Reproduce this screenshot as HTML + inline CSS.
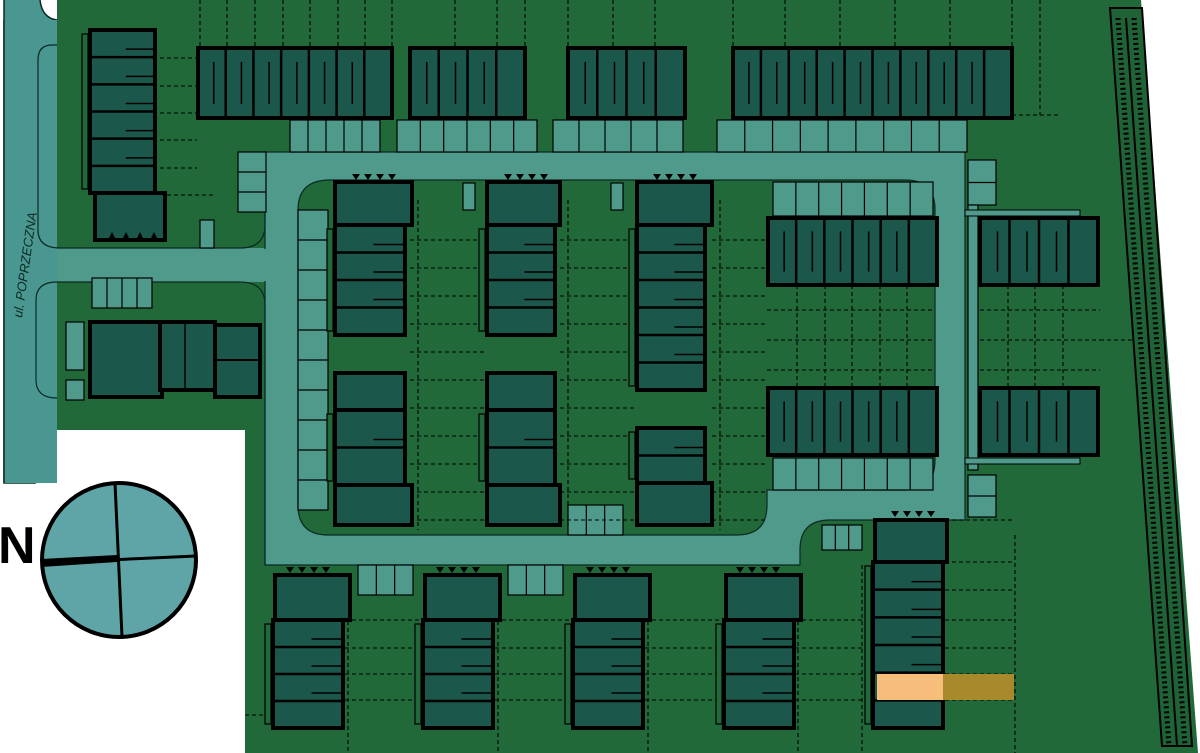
<!DOCTYPE html>
<html><head><meta charset="utf-8"><style>html,body{margin:0;padding:0;background:#fff}svg{display:block}</style></head>
<body>
<svg id="s" width="1200" height="753" viewBox="0 0 1200 753" xmlns="http://www.w3.org/2000/svg">
<rect width="1200" height="753" fill="#fff"/>
<!-- site -->
<polygon points="57,0 1141,0 1198,753 245,753 245,430 57,430" fill="#22693a"/>
<!-- street -->
<path d="M4,0 H40 Q42,18 57,20 V483 H40 Q36,430 57,425 L57,430 H4 Z" fill="#4a9690"/>
<path d="M4,0 V483 H35 V450 Q35,428 57,428 M40,0 Q42,18 57,20" fill="none" stroke="#0a2a22" stroke-width="1.5"/>
<rect x="4" y="20" width="53" height="463" fill="#4a9690"/>
<line x1="4" y1="20" x2="4" y2="483" stroke="#0a2a22" stroke-width="1.5"/>
<text x="0" y="0" transform="translate(22,318) rotate(-82)" font-family="Liberation Sans, sans-serif" font-style="italic" font-size="13" fill="#0a2a22">ul. POPRZECZNA</text>
<!-- sidewalk curves left -->
<path d="M57,45 H52 Q38,45 38,60 V230 Q38,248 60,248" fill="none" stroke="#0a2a22" stroke-width="1.2"/>
<path d="M57,282 Q36,282 36,300 V380 Q36,398 57,398" fill="none" stroke="#0a2a22" stroke-width="1.2"/>
<!-- entry road -->
<rect x="57" y="248" width="230" height="34" fill="#4f9a8a"/>
<!-- ring road -->
<path d="M265,152 H965 V520 H830 Q800,520 800,550 V565 H265 Z" fill="#4f9a8a" stroke="#0a2a22" stroke-width="1.2"/>
<rect x="57" y="249" width="212" height="32" fill="#4f9a8a"/>
<path d="M57,248 H240 Q265,248 265,225 V152 M57,282 H240 Q265,282 265,305 V565" fill="none" stroke="#0a2a22" stroke-width="1.2"/>
<rect x="266" y="250" width="6" height="30" fill="#4f9a8a"/>
<!-- inner green -->
<path d="M330,180 H905 Q935,180 935,210 V460 Q935,490 905,490 H767 V505 Q767,535 737,535 H328 Q298,535 298,505 V210 Q298,180 330,180 Z" fill="#22693a" stroke="#0a2a22" stroke-width="1.2"/>
<g id="g"></g>
<!-- compass -->
<circle cx="119" cy="560" r="77" fill="#5fa5a7" stroke="#000" stroke-width="4"/>
<line x1="115" y1="483" x2="122" y2="637" stroke="#000" stroke-width="3"/>
<line x1="42" y1="563" x2="196" y2="556" stroke="#000" stroke-width="3"/>
<polygon points="41,559 117,555 117,562 41,567" fill="#000"/>
<text x="-2" y="563" font-family="Liberation Sans, sans-serif" font-weight="bold" font-size="52" fill="#000">N</text>
</svg>
<script>
var g=document.getElementById('g'),NS='http://www.w3.org/2000/svg',h='';
function R(x,y,w,hh,f,sw,sc){h+='<rect x="'+x+'" y="'+y+'" width="'+w+'" height="'+hh+'" fill="'+f+'" stroke="'+(sc||'#000')+'" stroke-width="'+sw+'"/>';}
function L(x1,y1,x2,y2,w,d){h+='<line x1="'+x1+'" y1="'+y1+'" x2="'+x2+'" y2="'+y2+'" stroke="#000" stroke-width="'+(w||1.3)+'"'+(d?' stroke-dasharray="4,3"':'')+'/>';}
var B='#1b584b',T='#4f9a8a';
// stalls
function stalls(x,y,w,hh,n,vert){R(x,y,w,hh,T,1.2);for(var i=1;i<n;i++){if(vert)L(x,y+hh*i/n,x+w,y+hh*i/n,1.2);else L(x+w*i/n,y,x+w*i/n,y+hh,1.2);}}
stalls(290,120,90,32,5);stalls(397,120,140,32,6);stalls(553,120,130,32,5);stalls(717,120,250,32,9);
stalls(238,152,28,60,3,1);stalls(298,210,30,300,10,1);stalls(968,160,28,45,2,1);stalls(968,475,28,42,2,1);
stalls(92,278,60,30,4);stalls(358,565,55,30,3);stalls(508,565,55,30,3);stalls(568,505,55,30,3);stalls(822,525,40,25,3);
stalls(773,182,160,34,7);stalls(773,458,160,32,7);stalls(805,182,0,0,1);
R(968,205,10,265,T,1.2);R(965,210,115,6,T,1);R(965,458,115,6,T,1);
R(463,183,12,27,T,1.2);R(611,183,12,27,T,1.2);R(200,220,14,28,T,1.2);R(66,322,18,48,T,1.2);R(66,380,18,20,T,1.2);
// dashed plot lines
var dl=[[160,58,197,58],[160,86,197,86],[160,113,197,113],[160,140,197,140],[160,168,197,168],[160,195,215,195],
[392,0,392,48],[455,0,455,48],[497,0,497,48],[525,0,525,48],[568,0,568,48],[613,0,613,48],[655,0,655,48],[733,0,733,48],[785,0,785,48],[840,0,840,48],[895,0,895,48],[950,0,950,48],[1012,0,1012,48],[1040,0,1040,115],[1012,115,1060,115],[200,0,200,48],[227,0,227,48],[255,0,255,48],[283,0,283,48],[310,0,310,48],[338,0,338,48],[365,0,365,48]];
[[410,487],[560,637],[712,765]].forEach(function(c){for(var y=240;y<=520;y+=28)dl.push([c[0],y,c[1],y]);dl.push([c[0]+8,200,c[0]+8,530]);});
[285,310,340,370,400,430].forEach(function(y){dl.push([767,y,935,y]);dl.push([980,y,1100,y]);});
[797,825,852,880,907].forEach(function(x){dl.push([x,285,x,390]);});[1008,1035,1063].forEach(function(x){dl.push([x,285,x,390]);});
dl.push([1100,340,1150,340]);dl.push([1015,535,1015,753]);dl.push([945,520,1015,520]);
[348,498,648,798].forEach(function(x){dl.push([x,600,x,753]);});
[620,648,674,700].forEach(function(y){[[345,420],[495,570],[645,720],[795,870],[945,1015]].forEach(function(p){dl.push([p[0],y,p[1],y]);});});
dl.push([245,715,275,715]);dl.push([862,565,862,753]);dl.push([945,562,1015,562]);dl.push([945,590,1015,590]);
dl.forEach(function(a){L(a[0],a[1],a[2],a[3],1.1,1);});
// row buildings (horizontal units)
function row(x,y,w,hh,n){R(x,y,w,hh,B,4);for(var i=1;i<n;i++){var xx=x+w*i/n;L(xx,y,xx,y+hh,2.5);L(xx-12,y+hh*0.2,xx-12,y+hh*0.8,1.5);}}
row(198,48,194,70,7);row(410,48,115,70,4);row(568,48,117,70,4);row(733,48,279,70,10);
row(768,218,169,67,6);row(980,218,118,67,4);row(768,388,169,67,6);row(980,388,118,67,4);
// column buildings
function col(x,y,w,hh,n,tw,th){ if(th){R(x,y,tw,th,B,4);y+=th;} R(x,y,w,hh,B,4);for(var i=1;i<n;i++){var yy=y+hh*i/n;L(x,yy,x+w,yy,2.5);L(x+w*0.55,yy-8,x+w,yy-8,1.5);} R(x-8,y+4,6,hh-8,'#22693a',1.2);}
col(90,30,65,163,6);R(95,193,70,47,B,4);
R(90,322,72,75,B,4);R(160,322,55,68,B,4);R(215,325,45,72,B,4);L(215,360,260,360,2);L(185,322,185,390,1.5);
col(335,225,70,110,4,77,0);R(335,182,77,43,B,4);
col(335,410,70,75,2);R(335,373,70,37,B,4);R(335,485,77,40,B,4);
col(487,225,68,110,4);R(487,182,73,43,B,4);
col(487,410,68,75,2);R(487,373,68,37,B,4);R(487,485,73,40,B,4);
col(637,225,68,165,6);R(637,182,75,43,B,4);
col(637,428,68,55,2);R(637,483,75,42,B,4);
[273,423,573,724].forEach(function(x){R(x+2,575,75,45,B,4);col(x,620,70,108,4);});
R(875,520,72,42,B,4);col(873,562,70,166,6);
R(877,674,66,26,'#f7bd7a',0);R(943,674,71,26,'#a88a2c',0);
// triangles (entrances)
function tri(x,y,n){for(var i=0;i<n;i++){var xx=x+i*12;h+='<polygon points="'+(xx-4)+','+y+' '+(xx+4)+','+y+' '+xx+','+(y+6)+'" fill="#000"/>';}}
tri(356,174,4);tri(508,174,4);tri(657,174,4);tri(895,511,4);[290,440,590,740].forEach(function(x){tri(x,567,4);});
h+='<polygon points="108,240 112,232 116,240" fill="#000"/><polygon points="122,240 126,232 130,240" fill="#000"/><polygon points="136,240 140,232 144,240" fill="#000"/><polygon points="150,240 154,232 158,240" fill="#000"/>';
// ladder strip
h+='<polygon points="1110,8 1142,8 1192,746 1162,746" fill="#1f6236" stroke="#000" stroke-width="2"/>';
h+='<line x1="1126" y1="18" x2="1177" y2="746" stroke="#000" stroke-width="2"/>';
h+='<line x1="1118" y1="18" x2="1169" y2="746" stroke="#000" stroke-width="5" stroke-dasharray="2,3"/>';
h+='<line x1="1134" y1="18" x2="1185" y2="746" stroke="#000" stroke-width="5" stroke-dasharray="2,3"/>';
g.innerHTML=h;
</script>
</body></html>
